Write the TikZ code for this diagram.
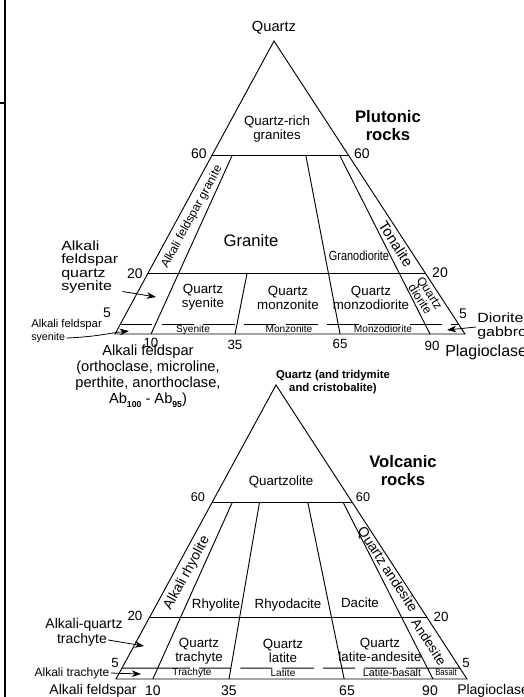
\documentclass[tikz,border=0pt]{standalone}
\usepackage{fontspec}
\setmainfont{Liberation Sans}
\newfontfamily\narrowfont[FakeStretch=0.82]{Liberation Sans}
\newfontfamily\widefont[FakeStretch=1.2]{Liberation Sans}
\usetikzlibrary{calc,arrows.meta}

\newcommand{\setfs}[2]{\fontsize{#1}{#2}\selectfont}
\newcommand{\subab}[1]{\raisebox{-0.45ex}{\bfseries\setfs{6.5}{7}#1}}

\tikzset{
  edge/.style={line width=0.7pt},
  fiveline/.style={line width=0.7pt, dash pattern=on 24pt off 7pt},
  rocklabel/.style={inner sep=0.75pt, align=center, font=\setfs{10}{10.5}},
  sidelabel/.style={inner sep=0.75pt, align=center, font=\setfs{10}{10}},
  bandlabel/.style={inner sep=0.5pt, font=\setfs{7.6}{8}},
  numlabel/.style={inner sep=0.75pt, font=\setfs{10.5}{11}},
  titlelabel/.style={inner sep=0.75pt, align=center, font=\bfseries\setfs{12.5}{13.5}},
  notelabel/.style={inner sep=0.75pt, align=left},
  ptr/.style={line width=0.6pt, -{Stealth[length=7pt,width=5pt]}}
}

\begin{document}
\begin{tikzpicture}[x=0.75pt,y=0.75pt,yscale=-1,xscale=1]
\useasboundingbox (0,0) rectangle (524,697);

%Straight Lines: page edge
\draw [line width=1.4pt] (5,0) -- (5,697) ;
\draw [line width=1.4pt] (0,103) -- (6,103) ;

%Shape: Triangle, plutonic
\coordinate (Qu) at (274,41);
\coordinate (Au) at (115,334);
\coordinate (Pu) at (465,334);
\coordinate (u60l) at ($(Qu)!0.392!(Au)$);
\coordinate (u60r) at ($(Qu)!0.392!(Pu)$);
\coordinate (u20l) at ($(Qu)!0.795!(Au)$);
\coordinate (u20r) at ($(Qu)!0.795!(Pu)$);
\coordinate (u5l) at ($(Qu)!0.966!(Au)$);
\coordinate (u5r) at ($(Qu)!0.966!(Pu)$);
\draw [edge] (Qu) -- (Au) -- (Pu) -- cycle ;
\draw [edge] (u60l) -- (u60r) ;
\draw [edge] (u20l) -- (u20r) ;
\draw [fiveline] (u5l) -- (u5r) ;
%Straight Lines: 10, 35, 65, 90
\draw [edge] ($(u60l)!0.148!(u60r)$) -- ($(Au)!0.103!(Pu)$) ;
\draw [edge] ($(u20l)!0.357!(u20r)$) -- ($(Au)!0.343!(Pu)$) ;
\draw [edge] ($(u60l)!0.687!(u60r)$) -- ($(Au)!0.643!(Pu)$) ;
\draw [edge] ($(u60l)!0.935!(u60r)$) -- ($(Au)!0.9!(Pu)$) ;

% Text Node
\node [numlabel, font=\setfs{11}{12}] (uqtz) at (274,28) {Quartz};
% Text Node
\node [rocklabel] (uqrich) at (277,129) {Quartz-rich\\granites};
% Text Node
\node [titlelabel] (uplut) at (388,126) {Plutonic\\rocks};
% Text Node
\node [numlabel] (u60a) at (199,154) {60};
\node [numlabel] (u60b) at (362,154) {60};
% Text Node
\node [sidelabel, font=\setfs{9}{9}, rotate=61.5] (uafg) at (192,217) {Alkali feldspar granite};
% Text Node
\node [rocklabel, font=\setfs{12.5}{13}] (ugran) at (251,241) {Granite};
% Text Node
\node [rocklabel, font=\narrowfont\setfs{10}{10}] (ugrd) at (359,256) {Granodiorite};
% Text Node
\node [sidelabel, font=\setfs{11}{11}, rotate=-57] (uton) at (396,244) {Tonalite};
% Text Node
\node [numlabel] (u20a) at (135,274) {20};
\node [numlabel] (u20b) at (440,273) {20};
% Text Node
\node [notelabel, anchor=west, font=\widefont\setfs{10}{10}] (uafqs) at (60,267) {Alkali\\feldspar\\quartz\\syenite};
% Text Node
\node [rocklabel] (uqsy) at (203,297) {Quartz\\syenite};
\node [rocklabel] (uqmz) at (288,298) {Quartz\\monzonite};
\node [rocklabel] (uqmd) at (371,298) {Quartz\\monzodiorite};
% Text Node
\node [sidelabel, font=\setfs{9}{8.5}, rotate=-57] (uqdi) at (425,296) {Quartz\\diorite};
% Text Node
\node [numlabel] (u5a) at (107,313) {5};
\node [numlabel] (u5b) at (463,314) {5};
% Text Node
\node [bandlabel] (usye) at (193,329.5) {Syenite};
\node [bandlabel] (umzn) at (289,329) {Monzonite};
\node [bandlabel] (umzd) at (383,329) {Monzodiorite};
% Text Node
\node [notelabel, anchor=west, font=\setfs{8.5}{9}] (uafs) at (30,325) {Alkali feldspar};
\node [notelabel, anchor=west, font=\setfs{8}{9}] (usyn) at (30,338) {syenite};
% Text Node
\node [notelabel, anchor=west, font=\widefont\setfs{10}{10.5}] (udio) at (476,326) {Diorite\\gabbro};
% Text Node
\node [numlabel, font=\setfs{10}{10}] (u10) at (151,343) {10};
\node [numlabel, font=\setfs{10}{10}] (u35) at (235,345) {35};
\node [numlabel, font=\setfs{10}{10}] (u65) at (340,344) {65};
\node [numlabel, font=\setfs{10}{10}] (u90) at (432,346) {90};
% Text Node
\node [rocklabel, font=\setfs{11}{12}] (uafp) at (148,376) {Alkali feldspar\\(orthoclase, microline,\\perthite, anorthoclase,\\Ab\subab{100} - Ab\subab{95})};
% Text Node
\node [notelabel, anchor=west, font=\setfs{12}{12}] (uplg) at (444,352) {Plagioclase};

%Arrows
\coordinate (uafqsT) at (156,297);
\coordinate (uafsT) at (129,331);
\coordinate (udioT) at (447,330);
\draw [ptr] (uafqs.south east) ++(3,-3) -- (uafqsT) ;
\draw [ptr] (usyn.east) .. controls (95,337) and (110,333) .. (uafsT) ;
\draw [ptr] (udio.west) ++(0,1) -- (udioT) ;

%Shape: Triangle, volcanic
\coordinate (Ql) at (276,385);
\coordinate (Al) at (116,679);
\coordinate (Pl) at (467,679);
\coordinate (l60l) at ($(Ql)!0.398!(Al)$);
\coordinate (l60r) at ($(Ql)!0.398!(Pl)$);
\coordinate (l20l) at ($(Ql)!0.789!(Al)$);
\coordinate (l20r) at ($(Ql)!0.789!(Pl)$);
\coordinate (l5l) at ($(Ql)!0.963!(Al)$);
\coordinate (l5r) at ($(Ql)!0.963!(Pl)$);
\coordinate (l10t) at ($(l60l)!0.144!(l60r)$);
\coordinate (l10b) at ($(Al)!0.105!(Pl)$);
\coordinate (l90t) at ($(l60l)!0.935!(l60r)$);
\coordinate (l90b) at ($(Al)!0.903!(Pl)$);
\coordinate (l5a) at (intersection of l5l--l5r and l10t--l10b);
\coordinate (l5b) at (intersection of l5l--l5r and l90t--l90b);
\draw [edge] (Ql) -- (Al) -- (Pl) -- cycle ;
\draw [edge] (l60l) -- (l60r) ;
\draw [edge] (l20l) -- (l20r) ;
\draw [edge] (l5l) -- (l5a) ;
\draw [fiveline] (l5a) -- (l5b) ;
\draw [edge] (l5b) -- (l5r) ;
%Straight Lines: 10, 35, 65, 90
\draw [edge] (l10t) -- (l10b) ;
\draw [edge] ($(l60l)!0.338!(l60r)$) -- ($(Al)!0.322!(Pl)$) ;
\draw [edge] ($(l60l)!0.683!(l60r)$) -- ($(Al)!0.65!(Pl)$) ;
\draw [edge] (l90t) -- (l90b) ;

% Text Node
\node [rocklabel, font=\bfseries\setfs{8.5}{10}] (lqtz) at (333,382) {Quartz (and tridymite\\and cristobalite)};
% Text Node
\node [titlelabel] (lvolc) at (403,471) {Volcanic\\rocks};
% Text Node
\node [rocklabel] (lqzl) at (281,482) {Quartzolite};
% Text Node
\node [numlabel, font=\setfs{9.5}{10}] (l60a) at (198,497) {60};
\node [numlabel, font=\setfs{9.5}{10}] (l60b) at (363,497) {60};
% Text Node
\node [sidelabel, font=\setfs{10.4}{11}, rotate=61.5] (larh) at (187,573) {Alkali rhyolite};
% Text Node
\node [rocklabel] (lrhy) at (216,605) {Rhyolite};
\node [rocklabel] (lrhd) at (288,605) {Rhyodacite};
\node [rocklabel] (ldac) at (360,603) {Dacite};
% Text Node
\node [sidelabel, font=\setfs{10.4}{11}, rotate=-57] (lqan) at (387,570) {Quartz andesite};
% Text Node
\node [numlabel, font=\setfs{10}{10}] (l20a) at (135,616) {20};
\node [numlabel, font=\setfs{10}{10}] (l20b) at (441,617) {20};
% Text Node
\node [rocklabel, font=\setfs{10.5}{11}] (laqz) at (84,625) {Alkali-quartz};
\node [rocklabel, font=\setfs{10.5}{11}] (latr) at (82,640) {trachyte};
% Text Node
\node [rocklabel] (lqtr) at (199,651) {Quartz\\trachyte};
\node [rocklabel] (lqla) at (283,651) {Quartz\\latite};
\node [rocklabel] (lqlan) at (380,650) {Quartz\\latite-andesite};
% Text Node
\node [sidelabel, rotate=-57] (land) at (429,642) {Andesite};
% Text Node
\node [numlabel, font=\setfs{10}{10}] (l5a) at (115,663) {5};
\node [numlabel, font=\setfs{10}{10}] (l5b) at (466,663) {5};
% Text Node
\node [notelabel, font=\setfs{9}{9}] (lalt) at (72,673) {Alkali trachyte};
% Text Node
\node [bandlabel] (ltra) at (192,672.5) {Trachyte};
\node [bandlabel] (llat) at (283,672.5) {Latite};
\node [bandlabel, font=\setfs{8}{8}] (llbs) at (392,672.5) {Latite-basalt};
\node [bandlabel, font=\narrowfont\setfs{7}{7}] (lbas) at (446,672.5) {Basalt};
% Text Node
\node [numlabel] (lafp) at (93,691) {Alkali feldspar};
\node [numlabel] (l10) at (153,691) {10};
\node [numlabel] (l35) at (229,691) {35};
\node [numlabel] (l65) at (347,691) {65};
\node [numlabel] (l90) at (430,691) {90};
\node [numlabel, anchor=west] (lplg) at (456,691) {Plagioclase};

%Arrows
\coordinate (latrT) at (144,646);
\coordinate (laltT) at (141,674);
\draw [ptr] (latr.east) -- (latrT) ;
\draw [ptr] (lalt.east) -- (laltT) ;
\end{tikzpicture}
\end{document}
